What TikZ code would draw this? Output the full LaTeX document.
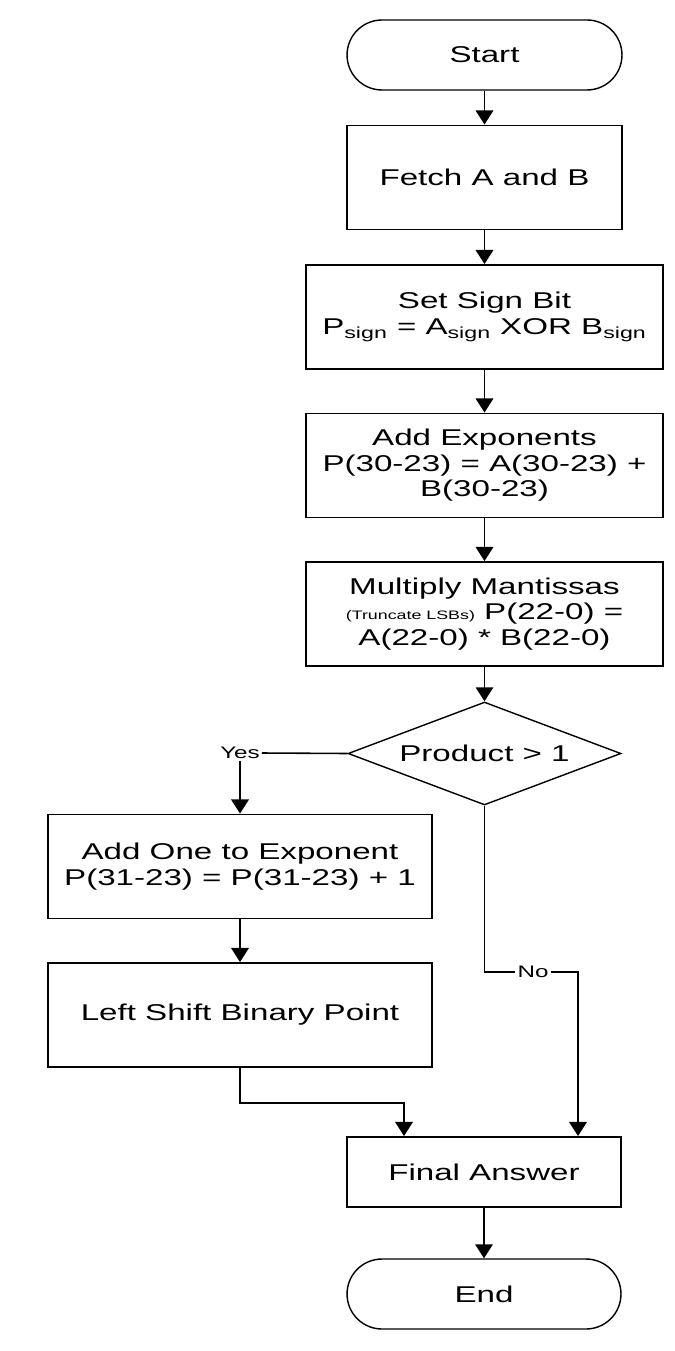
\documentclass[tikz,border=0pt]{standalone}
\usepackage{fontspec}
\setmainfont{Liberation Sans}[FakeStretch=1.45]
\usetikzlibrary{shapes.geometric, arrows.meta}

\begin{document}
\begin{tikzpicture}[x=0.02cm, y=-0.02cm,
    every node/.style={font=\fontsize{13}{14.5}\selectfont, align=center, inner sep=0pt},
    process/.style={rectangle, draw, line width=1.1pt, minimum height=2.08cm},
    terminal/.style={rectangle, draw, line width=0.8pt, rounded corners=0.7cm,
        minimum width=5.5cm, minimum height=1.4cm},
    decision/.style={diamond, draw, line width=0.8pt, aspect=2.65,
        minimum width=5.46cm, minimum height=2.06cm},
    small/.style={font=\fontsize{9.5}{11}\selectfont, fill=white, inner sep=1pt},
    arrow/.style={-{Triangle[length=8pt, width=10pt]}, line width=0.9pt},
    line/.style={line width=0.9pt}]
    \useasboundingbox (0,0) rectangle (675,1351);
    % Main column
    \node[terminal] (Start) at (484.5,55) {Start};
    \node[process, minimum width=5.5cm] (Fetch) at (484.5,177.5) {Fetch A and B};
    \node[process, minimum width=7.14cm] (Sign) at (484.5,317)
        {Set Sign Bit\\P\textsubscript{sign} = A\textsubscript{sign} XOR B\textsubscript{sign}};
    \node[process, minimum width=7.14cm] (Exp) at (484.5,465.5)
        {Add Exponents\\P(30-23) = A(30-23) +\\B(30-23)};
    \node[process, minimum width=7.14cm] (Mant) at (484.5,614)
        {Multiply Mantissas\\{\fontsize{7}{9}\selectfont(Truncate LSBs)} P(22-0) =\\A(22-0) * B(22-0)};
    \node[decision] (Prod) at (484.5,753.5) {Product > 1};
    % Yes branch
    \node[small] (Yes) at (240,753) {Yes};
    \node[process, minimum width=7.68cm] (AddOne) at (240,866.5)
        {Add One to Exponent\\P(31-23) = P(31-23) + 1};
    \node[process, minimum width=7.68cm] (Shift) at (240,1015) {Left Shift Binary Point};
    % End
    \node[process, minimum width=5.48cm, minimum height=1.4cm] (Final) at (484,1172) {Final Answer};
    \node[terminal, minimum width=5.48cm] (End) at (484,1294) {End};
    % No branch
    \coordinate (NoA) at (Prod.south |- 0,972);
    \coordinate (NoB) at (578,972);
    \node[small] (No) at (533,972) {No};
    \coordinate (ShiftA) at (Shift.south |- 0,1103);
    \coordinate (ShiftB) at (404,1103);
    % Arrows
    \draw[arrow] (Start) -- (Fetch);
    \draw[arrow] (Fetch) -- (Sign);
    \draw[arrow] (Sign) -- (Exp);
    \draw[arrow] (Exp) -- (Mant);
    \draw[arrow] (Mant) -- (Prod);
    \draw[line] (Prod.west) -- (Yes.east);
    \draw[arrow] (Yes.south) -- (AddOne.north);
    \draw[arrow] (AddOne) -- (Shift);
    \draw[line] (Prod.south) -- (NoA) -- (No.west);
    \draw[arrow] (No.east) -- (NoB) -- (NoB |- Final.north);
    \draw[arrow] (Shift.south) -- (ShiftA) -- (ShiftB) -- (ShiftB |- Final.north);
    \draw[arrow] (Final) -- (End);
\end{tikzpicture}
\end{document}
